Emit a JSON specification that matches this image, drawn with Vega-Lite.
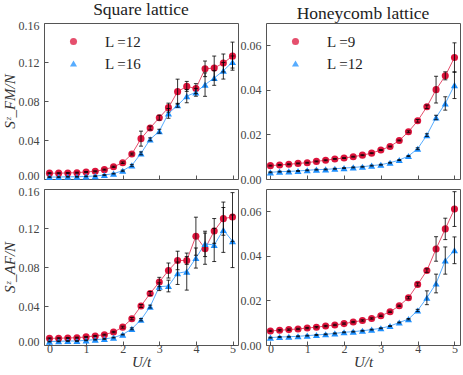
{
  "$schema": "https://vega.github.io/schema/vega-lite/v6.json",
  "padding": {"left": 1, "top": 0, "right": 3, "bottom": 0},
  "datasets": {
    "pts": [
      {"p":"a","s":"L =12","U":0,"S":0.006,"e":0.0005},{"p":"a","s":"L =12","U":0.25,"S":0.006,"e":0.0005},{"p":"a","s":"L =12","U":0.5,"S":0.0062,"e":0.0005},{"p":"a","s":"L =12","U":0.75,"S":0.0065,"e":0.0005},{"p":"a","s":"L =12","U":1,"S":0.0072,"e":0.0005},{"p":"a","s":"L =12","U":1.25,"S":0.0079,"e":0.0005},{"p":"a","s":"L =12","U":1.5,"S":0.0096,"e":0.0005},{"p":"a","s":"L =12","U":1.75,"S":0.0125,"e":0.0006},{"p":"a","s":"L =12","U":2,"S":0.0167,"e":0.0008},{"p":"a","s":"L =12","U":2.25,"S":0.0256,"e":0.001},{"p":"a","s":"L =12","U":2.5,"S":0.0414,"e":0.0077},{"p":"a","s":"L =12","U":2.75,"S":0.0523,"e":0.002},{"p":"a","s":"L =12","U":3,"S":0.0629,"e":0.0025},{"p":"a","s":"L =12","U":3.25,"S":0.0732,"e":0.0046},{"p":"a","s":"L =12","U":3.5,"S":0.0896,"e":0.0128},{"p":"a","s":"L =12","U":3.75,"S":0.095,"e":0.0051},{"p":"a","s":"L =12","U":4,"S":0.0927,"e":0.0051},{"p":"a","s":"L =12","U":4.25,"S":0.113,"e":0.008},{"p":"a","s":"L =12","U":4.5,"S":0.1138,"e":0.0123},{"p":"a","s":"L =12","U":4.75,"S":0.119,"e":0.0092},{"p":"a","s":"L =12","U":5,"S":0.126,"e":0.0144},
      {"p":"a","s":"L =16","U":0,"S":0.002,"e":0.0004},{"p":"a","s":"L =16","U":0.25,"S":0.002,"e":0.0004},{"p":"a","s":"L =16","U":0.5,"S":0.0023,"e":0.0004},{"p":"a","s":"L =16","U":0.75,"S":0.0023,"e":0.0004},{"p":"a","s":"L =16","U":1,"S":0.0027,"e":0.0004},{"p":"a","s":"L =16","U":1.25,"S":0.003,"e":0.0004},{"p":"a","s":"L =16","U":1.5,"S":0.0041,"e":0.0004},{"p":"a","s":"L =16","U":1.75,"S":0.0055,"e":0.0004},{"p":"a","s":"L =16","U":2,"S":0.0085,"e":0.0006},{"p":"a","s":"L =16","U":2.25,"S":0.014,"e":0.001},{"p":"a","s":"L =16","U":2.5,"S":0.0263,"e":0.0015},{"p":"a","s":"L =16","U":2.75,"S":0.0407,"e":0.0015},{"p":"a","s":"L =16","U":3,"S":0.049,"e":0.002},{"p":"a","s":"L =16","U":3.25,"S":0.0673,"e":0.005},{"p":"a","s":"L =16","U":3.5,"S":0.0756,"e":0.002},{"p":"a","s":"L =16","U":3.75,"S":0.085,"e":0.0068},{"p":"a","s":"L =16","U":4,"S":0.0889,"e":0.004},{"p":"a","s":"L =16","U":4.25,"S":0.0968,"e":0.012},{"p":"a","s":"L =16","U":4.5,"S":0.1036,"e":0.0075},{"p":"a","s":"L =16","U":4.75,"S":0.111,"e":0.0085},{"p":"a","s":"L =16","U":5,"S":0.12,"e":0.0062},
      {"p":"b","s":"L =9","U":0,"S":0.006,"e":0.0002},{"p":"b","s":"L =9","U":0.25,"S":0.0063,"e":0.0002},{"p":"b","s":"L =9","U":0.5,"S":0.0066,"e":0.0002},{"p":"b","s":"L =9","U":0.75,"S":0.007,"e":0.0002},{"p":"b","s":"L =9","U":1,"S":0.0073,"e":0.0002},{"p":"b","s":"L =9","U":1.25,"S":0.0079,"e":0.0002},{"p":"b","s":"L =9","U":1.5,"S":0.0084,"e":0.0002},{"p":"b","s":"L =9","U":1.75,"S":0.009,"e":0.0002},{"p":"b","s":"L =9","U":2,"S":0.0094,"e":0.0002},{"p":"b","s":"L =9","U":2.25,"S":0.01,"e":0.0002},{"p":"b","s":"L =9","U":2.5,"S":0.0107,"e":0.0002},{"p":"b","s":"L =9","U":2.75,"S":0.0116,"e":0.0002},{"p":"b","s":"L =9","U":3,"S":0.013,"e":0.0002},{"p":"b","s":"L =9","U":3.25,"S":0.0146,"e":0.0002},{"p":"b","s":"L =9","U":3.5,"S":0.0173,"e":0.0002},{"p":"b","s":"L =9","U":3.75,"S":0.0212,"e":0.0004},{"p":"b","s":"L =9","U":4,"S":0.0261,"e":0.0006},{"p":"b","s":"L =9","U":4.25,"S":0.0324,"e":0.0008},{"p":"b","s":"L =9","U":4.5,"S":0.0401,"e":0.006},{"p":"b","s":"L =9","U":4.75,"S":0.0463,"e":0.0018},{"p":"b","s":"L =9","U":5,"S":0.0545,"e":0.0066},
      {"p":"b","s":"L =12","U":0,"S":0.003,"e":0.0002},{"p":"b","s":"L =12","U":0.25,"S":0.0033,"e":0.0002},{"p":"b","s":"L =12","U":0.5,"S":0.0034,"e":0.0002},{"p":"b","s":"L =12","U":0.75,"S":0.0036,"e":0.0002},{"p":"b","s":"L =12","U":1,"S":0.0039,"e":0.0002},{"p":"b","s":"L =12","U":1.25,"S":0.0042,"e":0.0002},{"p":"b","s":"L =12","U":1.5,"S":0.0043,"e":0.0002},{"p":"b","s":"L =12","U":1.75,"S":0.0046,"e":0.0002},{"p":"b","s":"L =12","U":2,"S":0.0049,"e":0.0002},{"p":"b","s":"L =12","U":2.25,"S":0.0052,"e":0.0002},{"p":"b","s":"L =12","U":2.5,"S":0.0055,"e":0.0002},{"p":"b","s":"L =12","U":2.75,"S":0.006,"e":0.0002},{"p":"b","s":"L =12","U":3,"S":0.0064,"e":0.0002},{"p":"b","s":"L =12","U":3.25,"S":0.0073,"e":0.0002},{"p":"b","s":"L =12","U":3.5,"S":0.0085,"e":0.0002},{"p":"b","s":"L =12","U":3.75,"S":0.0103,"e":0.0002},{"p":"b","s":"L =12","U":4,"S":0.0136,"e":0.0004},{"p":"b","s":"L =12","U":4.25,"S":0.0197,"e":0.0006},{"p":"b","s":"L =12","U":4.5,"S":0.0276,"e":0.001},{"p":"b","s":"L =12","U":4.75,"S":0.0339,"e":0.003},{"p":"b","s":"L =12","U":5,"S":0.0421,"e":0.006},
      {"p":"c","s":"L =12","U":0,"S":0.0068,"e":0.0005},{"p":"c","s":"L =12","U":0.25,"S":0.007,"e":0.0005},{"p":"c","s":"L =12","U":0.5,"S":0.0072,"e":0.0005},{"p":"c","s":"L =12","U":0.75,"S":0.0075,"e":0.0005},{"p":"c","s":"L =12","U":1,"S":0.0083,"e":0.0005},{"p":"c","s":"L =12","U":1.25,"S":0.0093,"e":0.0005},{"p":"c","s":"L =12","U":1.5,"S":0.0106,"e":0.0005},{"p":"c","s":"L =12","U":1.75,"S":0.0133,"e":0.0007},{"p":"c","s":"L =12","U":2,"S":0.0183,"e":0.001},{"p":"c","s":"L =12","U":2.25,"S":0.027,"e":0.0012},{"p":"c","s":"L =12","U":2.5,"S":0.04,"e":0.0015},{"p":"c","s":"L =12","U":2.75,"S":0.0529,"e":0.002},{"p":"c","s":"L =12","U":3,"S":0.0646,"e":0.0048},{"p":"c","s":"L =12","U":3.25,"S":0.0764,"e":0.0077},{"p":"c","s":"L =12","U":3.5,"S":0.0867,"e":0.0095},{"p":"c","s":"L =12","U":3.75,"S":0.0867,"e":0.004},{"p":"c","s":"L =12","U":4,"S":0.1116,"e":0.0195},{"p":"c","s":"L =12","U":4.25,"S":0.0988,"e":0.016},{"p":"c","s":"L =12","U":4.5,"S":0.117,"e":0.0127},{"p":"c","s":"L =12","U":4.75,"S":0.1296,"e":0.017},{"p":"c","s":"L =12","U":5,"S":0.1313,"e":0.025},
      {"p":"c","s":"L =16","U":0,"S":0.0035,"e":0.0004},{"p":"c","s":"L =16","U":0.25,"S":0.0038,"e":0.0004},{"p":"c","s":"L =16","U":0.5,"S":0.0041,"e":0.0004},{"p":"c","s":"L =16","U":0.75,"S":0.0041,"e":0.0004},{"p":"c","s":"L =16","U":1,"S":0.0048,"e":0.0004},{"p":"c","s":"L =16","U":1.25,"S":0.0055,"e":0.0004},{"p":"c","s":"L =16","U":1.5,"S":0.0062,"e":0.0004},{"p":"c","s":"L =16","U":1.75,"S":0.0076,"e":0.0004},{"p":"c","s":"L =16","U":2,"S":0.0107,"e":0.0004},{"p":"c","s":"L =16","U":2.25,"S":0.0166,"e":0.001},{"p":"c","s":"L =16","U":2.5,"S":0.0259,"e":0.0012},{"p":"c","s":"L =16","U":2.75,"S":0.0394,"e":0.0015},{"p":"c","s":"L =16","U":3,"S":0.0598,"e":0.004},{"p":"c","s":"L =16","U":3.25,"S":0.0605,"e":0.006},{"p":"c","s":"L =16","U":3.5,"S":0.0736,"e":0.0115},{"p":"c","s":"L =16","U":3.75,"S":0.0753,"e":0.019},{"p":"c","s":"L =16","U":4,"S":0.0892,"e":0.0103},{"p":"c","s":"L =16","U":4.25,"S":0.1037,"e":0.013},{"p":"c","s":"L =16","U":4.5,"S":0.1026,"e":0.017},{"p":"c","s":"L =16","U":4.75,"S":0.118,"e":0.023},{"p":"c","s":"L =16","U":5,"S":0.1064,"e":0.027},
      {"p":"d","s":"L =9","U":0,"S":0.0063,"e":0.0003},{"p":"d","s":"L =9","U":0.25,"S":0.0066,"e":0.0003},{"p":"d","s":"L =9","U":0.5,"S":0.0069,"e":0.0003},{"p":"d","s":"L =9","U":0.75,"S":0.0072,"e":0.0003},{"p":"d","s":"L =9","U":1,"S":0.0076,"e":0.0003},{"p":"d","s":"L =9","U":1.25,"S":0.008,"e":0.0003},{"p":"d","s":"L =9","U":1.5,"S":0.0085,"e":0.0003},{"p":"d","s":"L =9","U":1.75,"S":0.009,"e":0.0003},{"p":"d","s":"L =9","U":2,"S":0.0096,"e":0.0003},{"p":"d","s":"L =9","U":2.25,"S":0.0103,"e":0.0003},{"p":"d","s":"L =9","U":2.5,"S":0.011,"e":0.0003},{"p":"d","s":"L =9","U":2.75,"S":0.0119,"e":0.0003},{"p":"d","s":"L =9","U":3,"S":0.0131,"e":0.0003},{"p":"d","s":"L =9","U":3.25,"S":0.0149,"e":0.0003},{"p":"d","s":"L =9","U":3.5,"S":0.0176,"e":0.0003},{"p":"d","s":"L =9","U":3.75,"S":0.0212,"e":0.0005},{"p":"d","s":"L =9","U":4,"S":0.0272,"e":0.0007},{"p":"d","s":"L =9","U":4.25,"S":0.0334,"e":0.0008},{"p":"d","s":"L =9","U":4.5,"S":0.0431,"e":0.0055},{"p":"d","s":"L =9","U":4.75,"S":0.0521,"e":0.0048},{"p":"d","s":"L =9","U":5,"S":0.061,"e":0.0078},
      {"p":"d","s":"L =12","U":0,"S":0.0033,"e":0.0002},{"p":"d","s":"L =12","U":0.25,"S":0.0036,"e":0.0002},{"p":"d","s":"L =12","U":0.5,"S":0.0037,"e":0.0002},{"p":"d","s":"L =12","U":0.75,"S":0.0039,"e":0.0002},{"p":"d","s":"L =12","U":1,"S":0.0042,"e":0.0002},{"p":"d","s":"L =12","U":1.25,"S":0.0045,"e":0.0002},{"p":"d","s":"L =12","U":1.5,"S":0.0048,"e":0.0002},{"p":"d","s":"L =12","U":1.75,"S":0.0052,"e":0.0002},{"p":"d","s":"L =12","U":2,"S":0.0057,"e":0.0002},{"p":"d","s":"L =12","U":2.25,"S":0.006,"e":0.0002},{"p":"d","s":"L =12","U":2.5,"S":0.0064,"e":0.0002},{"p":"d","s":"L =12","U":2.75,"S":0.0069,"e":0.0002},{"p":"d","s":"L =12","U":3,"S":0.0075,"e":0.0002},{"p":"d","s":"L =12","U":3.25,"S":0.0085,"e":0.0002},{"p":"d","s":"L =12","U":3.5,"S":0.0101,"e":0.0002},{"p":"d","s":"L =12","U":3.75,"S":0.0116,"e":0.0003},{"p":"d","s":"L =12","U":4,"S":0.0155,"e":0.0005},{"p":"d","s":"L =12","U":4.25,"S":0.0212,"e":0.0031},{"p":"d","s":"L =12","U":4.5,"S":0.0276,"e":0.0042},{"p":"d","s":"L =12","U":4.75,"S":0.0379,"e":0.0061},{"p":"d","s":"L =12","U":5,"S":0.0425,"e":0.006}
    ]
  },
  "data": {"name": "pts"},
  "columns": 2,
  "spacing": {"column": 28, "row": 10},
  "bounds": "flush",
  "resolve": {"scale": {"x": "independent", "y": "independent", "color": "independent", "shape": "independent"}},
  "concat": [
    {
      "width": 194, "height": 156,
      "title": {"text": "Square lattice"},
      "encoding": {
        "x": {"field": "U", "type": "quantitative", "title": null, "scale": {"domain": [-0.15, 5.15], "nice": false}, "axis": {"values": [0,1,2,3,4,5], "labels": false, "title": null}},
        "y": {"field": "S", "type": "quantitative", "title": "Sᶻ_FM/N", "scale": {"domain": [0, 0.16], "nice": false}, "axis": {"values": [0,0.04,0.08,0.12,0.16], "format": ".2f", "title": "Sᶻ_FM/N", "labelFlush": true, "labelFlushOffset": 3}}
      },
      "layer": [
        {"transform": [{"filter": "datum.p == 'a'"}], "mark": {"type": "line", "strokeWidth": 1, "opacity": 0.75},
         "encoding": {
           "color": {"field": "s", "type": "nominal", "scale": {"domain": ["L =12", "L =16"], "range": ["#dc143c", "#1e90ff"]}, "legend": {"title": null, "orient": "none", "legendX": 22, "legendY": 11, "labelOffset": 24}}}},
        {"transform": [{"filter": "datum.p == 'a'"}], "mark": {"type": "point", "filled": true, "size": 50, "opacity": 1},
         "encoding": {
           "color": {"field": "s", "type": "nominal", "scale": {"domain": ["L =12", "L =16"], "range": ["#dc143c", "#1e90ff"]}, "legend": {"title": null, "orient": "none", "legendX": 22, "legendY": 11, "labelOffset": 24}},
           "shape": {"field": "s", "type": "nominal", "scale": {"domain": ["L =12", "L =16"], "range": ["circle", "triangle-up"]}, "legend": {"title": null, "orient": "none", "legendX": 22, "legendY": 11, "labelOffset": 24}}}},
        {"transform": [{"filter": "datum.p == 'a'"}], "mark": {"type": "errorbar", "ticks": true, "size": 4, "thickness": 1, "color": "black", "opacity": 0.8},
         "encoding": {"yError": {"field": "e"}}},
        {"data": {"values": [{"t": "(a)"}]}, "mark": {"type": "text", "fontSize": 16, "font": "Liberation Serif", "color": "#222"},
         "encoding": {"x": {"datum": 4.6, "type": "quantitative"}, "y": {"datum": 0.0128, "type": "quantitative"}, "text": {"field": "t"}}}
      ]
    },
    {
      "width": 194, "height": 156,
      "title": {"text": "Honeycomb lattice"},
      "encoding": {
        "x": {"field": "U", "type": "quantitative", "title": null, "scale": {"domain": [-0.12, 5.15], "nice": false}, "axis": {"values": [0,1,2,3,4,5], "labels": false, "title": null}},
        "y": {"field": "S", "type": "quantitative", "title": null, "scale": {"domain": [0, 0.07], "nice": false}, "axis": {"values": [0,0.02,0.04,0.06], "format": ".2f", "title": null}}
      },
      "layer": [
        {"transform": [{"filter": "datum.p == 'b'"}], "mark": {"type": "line", "strokeWidth": 1, "opacity": 0.75},
         "encoding": {
           "color": {"field": "s", "type": "nominal", "scale": {"domain": ["L =9", "L =12"], "range": ["#dc143c", "#1e90ff"]}, "legend": {"title": null, "orient": "none", "legendX": 22, "legendY": 11, "labelOffset": 24}}}},
        {"transform": [{"filter": "datum.p == 'b'"}], "mark": {"type": "point", "filled": true, "size": 50, "opacity": 1},
         "encoding": {
           "color": {"field": "s", "type": "nominal", "scale": {"domain": ["L =9", "L =12"], "range": ["#dc143c", "#1e90ff"]}, "legend": {"title": null, "orient": "none", "legendX": 22, "legendY": 11, "labelOffset": 24}},
           "shape": {"field": "s", "type": "nominal", "scale": {"domain": ["L =9", "L =12"], "range": ["circle", "triangle-up"]}, "legend": {"title": null, "orient": "none", "legendX": 22, "legendY": 11, "labelOffset": 24}}}},
        {"transform": [{"filter": "datum.p == 'b'"}], "mark": {"type": "errorbar", "ticks": true, "size": 4, "thickness": 1, "color": "black", "opacity": 0.8},
         "encoding": {"yError": {"field": "e"}}},
        {"data": {"values": [{"t": "(b)"}]}, "mark": {"type": "text", "fontSize": 16, "font": "Liberation Serif", "color": "#222"},
         "encoding": {"x": {"datum": 4.6, "type": "quantitative"}, "y": {"datum": 0.0057, "type": "quantitative"}, "text": {"field": "t"}}}
      ]
    },
    {
      "width": 194, "height": 156,
      "encoding": {
        "x": {"field": "U", "type": "quantitative", "title": "U/t", "scale": {"domain": [-0.15, 5.15], "nice": false}, "axis": {"values": [0,1,2,3,4,5], "format": "d", "title": "U/t"}},
        "y": {"field": "S", "type": "quantitative", "title": "Sᶻ_AF/N", "scale": {"domain": [0, 0.16], "nice": false}, "axis": {"values": [0,0.04,0.08,0.12,0.16], "format": ".2f", "title": "Sᶻ_AF/N", "labelFlush": true, "labelFlushOffset": 3}}
      },
      "layer": [
        {"transform": [{"filter": "datum.p == 'c'"}], "mark": {"type": "line", "strokeWidth": 1, "opacity": 0.75},
         "encoding": {
           "color": {"field": "s", "type": "nominal", "scale": {"domain": ["L =12", "L =16"], "range": ["#dc143c", "#1e90ff"]}, "legend": null}}},
        {"transform": [{"filter": "datum.p == 'c'"}], "mark": {"type": "point", "filled": true, "size": 50, "opacity": 1},
         "encoding": {
           "color": {"field": "s", "type": "nominal", "scale": {"domain": ["L =12", "L =16"], "range": ["#dc143c", "#1e90ff"]}, "legend": null},
           "shape": {"field": "s", "type": "nominal", "scale": {"domain": ["L =12", "L =16"], "range": ["circle", "triangle-up"]}, "legend": null}}},
        {"transform": [{"filter": "datum.p == 'c'"}], "mark": {"type": "errorbar", "ticks": true, "size": 4, "thickness": 1, "color": "black", "opacity": 0.8},
         "encoding": {"yError": {"field": "e"}}},
        {"data": {"values": [{"t": "(c)"}]}, "mark": {"type": "text", "fontSize": 16, "font": "Liberation Serif", "color": "#222"},
         "encoding": {"x": {"datum": 4.65, "type": "quantitative"}, "y": {"datum": 0.0135, "type": "quantitative"}, "text": {"field": "t"}}}
      ]
    },
    {
      "width": 194, "height": 156,
      "encoding": {
        "x": {"field": "U", "type": "quantitative", "title": "U/t", "scale": {"domain": [-0.12, 5.15], "nice": false}, "axis": {"values": [0,1,2,3,4,5], "format": "d", "title": "U/t"}},
        "y": {"field": "S", "type": "quantitative", "title": null, "scale": {"domain": [0, 0.07], "nice": false}, "axis": {"values": [0,0.02,0.04,0.06], "format": ".2f", "title": null}}
      },
      "layer": [
        {"transform": [{"filter": "datum.p == 'd'"}], "mark": {"type": "line", "strokeWidth": 1, "opacity": 0.75},
         "encoding": {
           "color": {"field": "s", "type": "nominal", "scale": {"domain": ["L =9", "L =12"], "range": ["#dc143c", "#1e90ff"]}, "legend": null}}},
        {"transform": [{"filter": "datum.p == 'd'"}], "mark": {"type": "point", "filled": true, "size": 50, "opacity": 1},
         "encoding": {
           "color": {"field": "s", "type": "nominal", "scale": {"domain": ["L =9", "L =12"], "range": ["#dc143c", "#1e90ff"]}, "legend": null},
           "shape": {"field": "s", "type": "nominal", "scale": {"domain": ["L =9", "L =12"], "range": ["circle", "triangle-up"]}, "legend": null}}},
        {"transform": [{"filter": "datum.p == 'd'"}], "mark": {"type": "errorbar", "ticks": true, "size": 4, "thickness": 1, "color": "black", "opacity": 0.8},
         "encoding": {"yError": {"field": "e"}}},
        {"data": {"values": [{"t": "(d)"}]}, "mark": {"type": "text", "fontSize": 16, "font": "Liberation Serif", "color": "#222"},
         "encoding": {"x": {"datum": 4.6, "type": "quantitative"}, "y": {"datum": 0.006, "type": "quantitative"}, "text": {"field": "t"}}}
      ]
    }
  ],
  "config": {
    "font": "Liberation Serif",
    "view": {"stroke": "#555", "strokeWidth": 1},
    "title": {"font": "Liberation Serif", "fontSize": 17.5, "fontWeight": "normal", "color": "#222", "offset": 1},
    "axis": {"grid": false, "domain": false, "tickSize": -4, "tickColor": "#555", "labelOverlap": false, "labelFont": "Liberation Serif", "labelFontSize": 12, "labelColor": "#444", "titleFont": "Liberation Serif", "titleFontSize": 15, "titleFontWeight": "normal", "titleFontStyle": "italic", "titleColor": "#333"},
    "axisY": {"titlePadding": 1, "labelPadding": 9},
    "axisX": {"titlePadding": 0, "labelPadding": 2},
    "legend": {"labelFont": "Liberation Serif", "labelFontSize": 15, "labelColor": "#222", "symbolSize": 50, "symbolStrokeWidth": 0, "rowPadding": 6, "labelOffset": 24, "padding": 0}
  }
}
